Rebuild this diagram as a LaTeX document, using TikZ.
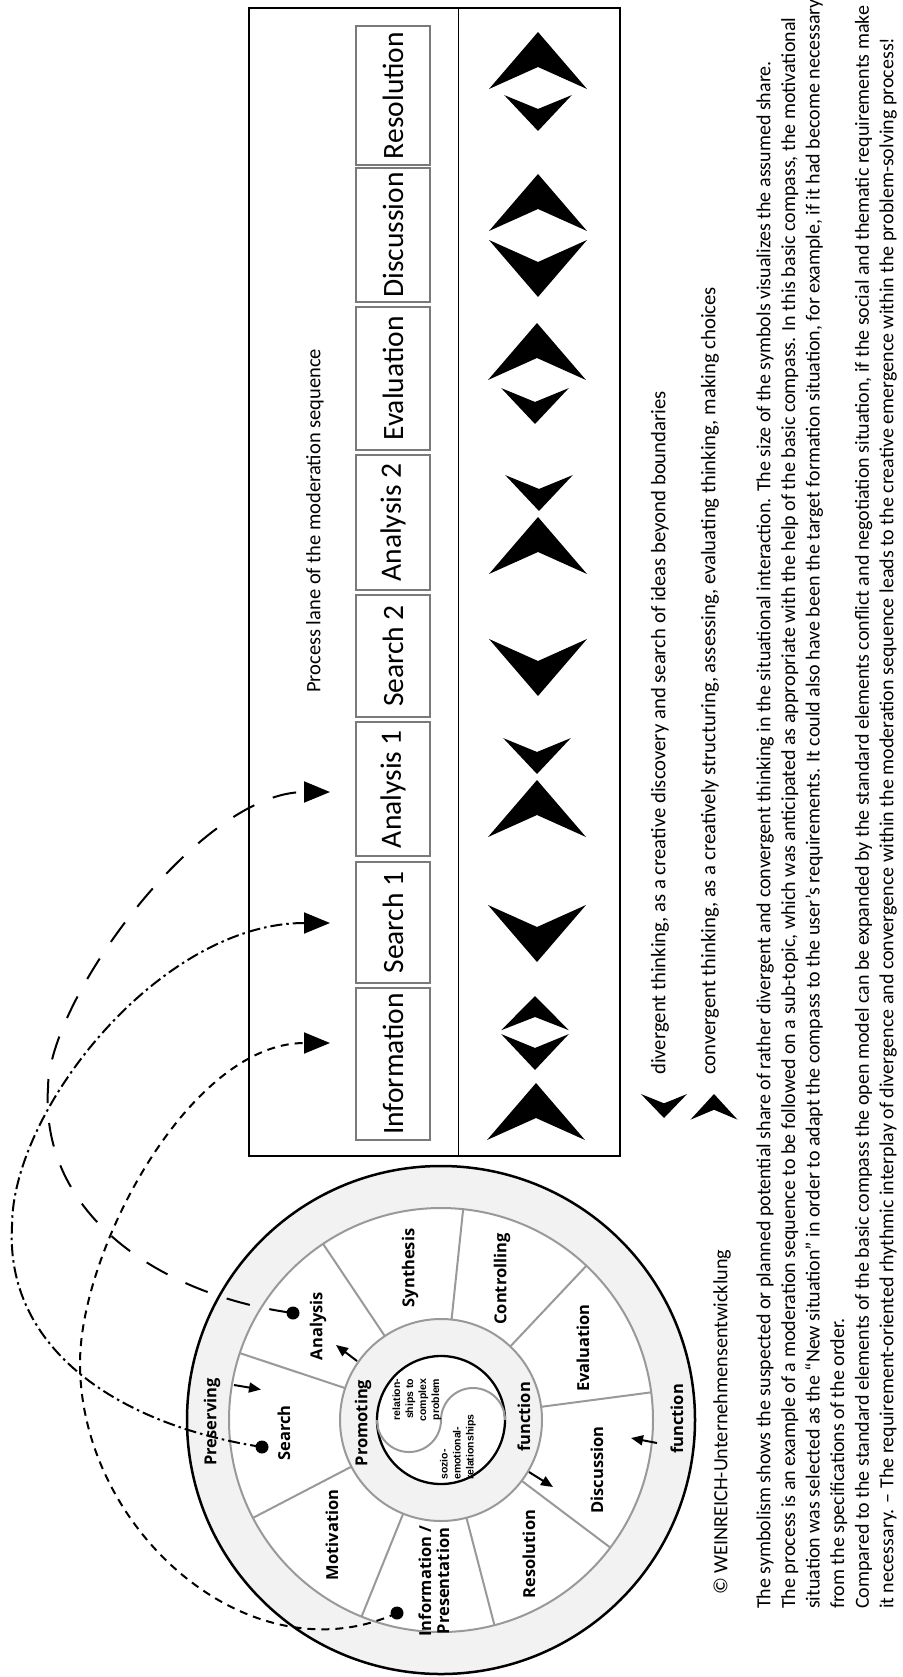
\documentclass[tikz,border=0pt]{standalone}
\usepackage{fontspec}
\setmainfont{Carlito}
\newfontfamily\wheelfont{Open Sans}
\newfontfamily\arialfont{Liberation Sans}
\usetikzlibrary{arrows.meta}
\definecolor{ringfill}{HTML}{F2F2F2}
\definecolor{spokegray}{HTML}{999999}
\definecolor{boxline}{HTML}{7A7A7A}
\tikzset{
  chev/.pic={\fill[black] (0,0) -- (-49,-57) -- (0,-35) -- (49,-57) -- cycle;},
  wlabel/.style={font=\wheelfont\bfseries\fontsize{16.5}{18}\selectfont, rotate=90, inner sep=0pt, align=center},
  tinytext/.style={font=\arialfont\bfseries\fontsize{10.5}{13}\selectfont, rotate=90, inner sep=0pt},
  stepbox/.style={draw=boxline, line width=1.5pt, rotate=90, font=\fontsize{29.5}{32}\selectfont, minimum height=74pt, inner sep=0pt},
  bodytext/.style={font=\fontsize{20}{23}\selectfont, rotate=90, inner sep=0pt, anchor=mid west},
  legendtext/.style={font=\fontsize{20.7}{23}\selectfont, rotate=90, inner sep=0pt, anchor=mid west},
  spokeline/.style={draw=spokegray, line width=2pt},
  dotnode/.style={circle, fill=black, minimum size=13pt, inner sep=0pt},
  smallarrow/.style={line width=2pt, -{Triangle[length=12pt,width=10pt]}},
  bigarrow/.style={line width=2pt, -{Triangle[length=26pt,width=21pt]}},
  longdash/.style={bigarrow, dash pattern=on 24pt off 20pt},
  dashdotline/.style={bigarrow, dash pattern=on 12pt off 4pt on 2.5pt off 4pt},
  shortdash/.style={bigarrow, dash pattern=on 8pt off 6pt}
}
\begin{document}
\begin{tikzpicture}[x=1pt,y=1pt]
\useasboundingbox (0,0) rectangle (902,-1677);
\clip (0,0) rectangle (902,-1677);
\fill[white] (0,0) rectangle (902,-1677);

% ---------- process lane ----------
\node[draw=black, line width=1.2pt, minimum width=371pt, minimum height=1148pt, inner sep=0pt] (lane) at (434.5,-582) {};
\draw[line width=1.2pt] ([xshift=210pt]lane.north west) -- ([xshift=210pt]lane.south west);
\node[font=\fontsize{20.5}{24}\selectfont, rotate=90, inner sep=0pt, anchor=mid west] (lanetitle) at (318,-693) {Process lane of the moderation sequence};

\node[stepbox, minimum width=139pt] (sRes) at (393,-95.5) {Resolution};
\node[stepbox, minimum width=134pt] (sDis) at (393,-235) {Discussion};
\node[stepbox, minimum width=143pt] (sEva) at (393,-378.5) {Evaluation};
\node[stepbox, minimum width=135pt] (sAn2) at (393,-522.5) {Analysis 2};
\node[stepbox, minimum width=122pt] (sSe2) at (393,-656) {Search 2};
\node[stepbox, minimum width=134pt] (sAn1) at (393,-789) {Analysis 1};
\node[stepbox, minimum width=121pt] (sSe1) at (393,-922.5) {Search 1};
\node[stepbox, minimum width=152pt] (sInf) at (393,-1064) {Information};

% chevrons
\pic at (538,-32) {chev};
\pic[xscale=0.69,yscale=-0.63] at (538,-131) {chev};
\pic at (538,-174) {chev};
\pic[yscale=-1] at (538,-297) {chev};
\pic at (537,-323) {chev};
\pic[xscale=0.69,yscale=-0.63] at (535,-424) {chev};
\pic[xscale=0.69,yscale=-0.63] at (539,-511) {chev};
\pic at (538,-517) {chev};
\pic[yscale=-1] at (538,-696) {chev};
\pic[xscale=0.69,yscale=-0.63] at (537,-774) {chev};
\pic at (537,-780) {chev};
\pic[yscale=-1] at (537,-962) {chev};
\pic[xscale=0.69,yscale=0.6] at (535,-996) {chev};
\pic[xscale=0.69,yscale=-0.63] at (535,-1070) {chev};
\pic at (536,-1083) {chev};

% legend
\pic[xscale=0.47,yscale=-0.42] at (664,-1118) {chev};
\pic[xscale=0.48,yscale=0.45] at (714,-1094) {chev};
\node[legendtext] (legdiv) at (663,-1075) {divergent thinking, as a creative discovery and search of ideas beyond boundaries};
\node[legendtext] (legcon) at (713,-1075) {convergent thinking, as a creatively structuring, assessing, evaluating thinking, making choices};

% ---------- wheel ----------
\coordinate (C) at (441,-1420);
\draw[line width=2.5pt, fill=ringfill] (C) circle[radius=254pt];
\draw[spokeline, fill=white] (C) circle[radius=212pt];
\foreach \a in {161.6,123.8,84,46.7,7.5,-37,-75.4,-112,-152.5}
  \draw[spokeline] ([shift={(\a:101pt)}]C) -- ([shift={(\a:212pt)}]C);
\draw[spokeline, fill=ringfill] (C) circle[radius=101pt];
\draw[line width=2.3pt, fill=white] (C) circle[radius=64pt];
\draw[draw=spokegray, line width=2pt] ([xshift=-64pt]C) arc[start angle=180, end angle=360, radius=32pt] arc[start angle=180, end angle=0, radius=32pt];

\node[wlabel] (wAna) at (318,-1326) {Analysis};
\node[wlabel] (wSyn) at (410,-1268) {Synthesis};
\node[wlabel] (wCon) at (502,-1279) {Controlling};
\node[wlabel] (wEva) at (583,-1348) {Evaluation};
\node[wlabel] (wDis) at (597,-1470) {Discussion};
\node[wlabel] (wRes) at (529,-1554) {Resolution};
\node[wlabel] (wInf) at (434,-1581) {Information /\\Presentation};
\node[wlabel] (wMot) at (332,-1535) {Motivation};
\node[wlabel] (wSea) at (284,-1433) {Search};
\node[wlabel] (wPro) at (363,-1423) {Promoting};
\node[wlabel] (wFi) at (524,-1417) {function};
\node[wlabel] (wFo) at (677,-1419) {function};
\node[wlabel] (wPre) at (212,-1422) {Preserving};
\node[tinytext, align=right] (tRel) at (417,-1400) {relation-\\ships to\\complex\\problem};
\node[tinytext, align=left] (tSoz) at (458,-1447) {sozio-\\emotional-\\relationships};

% small arrows in the wheel
\coordinate (a1s) at (234,-1385); \coordinate (a1e) at (261,-1389.5);
\coordinate (a2s) at (357,-1361); \coordinate (a2e) at (336,-1345);
\coordinate (a3s) at (529,-1472); \coordinate (a3e) at (553,-1487);
\coordinate (a4s) at (657,-1443); \coordinate (a4e) at (631,-1438);
\draw[smallarrow] (a1s) -- (a1e);
\draw[smallarrow] (a2s) -- (a2e);
\draw[smallarrow] (a3s) -- (a3e);
\draw[smallarrow] (a4s) -- (a4e);

% ---------- connectors ----------
\node[dotnode] (dA) at (293,-1313) {};
\node[dotnode] (dS) at (262,-1447) {};
\node[dotnode] (dI) at (397,-1613) {};
\coordinate (tA) at (330,-792);
\coordinate (tS) at (330,-923);
\coordinate (tI) at (330,-1043);
\coordinate (mA) at (48,-1088);
\coordinate (mS) at (12,-1226);
\coordinate (mI) at (80,-1363);
\draw[longdash] (dA.center) .. controls (160,-1295) and (40,-1215) .. (mA) .. controls (48,-1000) and (200,-792) .. (tA);
\draw[dashdotline] (dS.center) .. controls (120,-1425) and (5,-1350) .. (mS) .. controls (12,-1110) and (160,-923) .. (tS);
\draw[shortdash] (dI.center) .. controls (250,-1680) and (80,-1530) .. (mI) .. controls (80,-1250) and (190,-1043) .. (tI);

% ---------- texts ----------
\node[bodytext, font=\fontsize{20.2}{23}\selectfont] (copy) at (725,-1595) {© WEINREICH-Unternehmensentwicklung};
\node[bodytext] (p1) at (768,-1609) {The symbolism shows the suspected or planned potential share of rather divergent and convergent thinking in the situational interaction. The size of the symbols visualizes the assumed share.};
\node[bodytext] (p2) at (792.6,-1609) {The process is an example of a moderation sequence to be followed on a sub-topic, which was anticipated as appropriate with the help of the basic compass. In this basic compass, the motivational};
\node[bodytext] (p3) at (817.2,-1609) {situation was selected as the “New situation” in order to adapt the compass to the user's requirements. It could also have been the target formation situation, for example, if it had become necessary};
\node[bodytext] (p4) at (841.8,-1609) {from the specifications of the order.};
\node[bodytext] (p5) at (866.4,-1609) {Compared to the standard elements of the basic compass the open model can be expanded by the standard elements conflict and negotiation situation, if the social and thematic requirements make};
\node[bodytext] (p6) at (891,-1609) {it necessary. – The requirement-oriented rhythmic interplay of divergence and convergence within the moderation sequence leads to the creative emergence within the problem-solving process!};
\end{tikzpicture}
\end{document}
